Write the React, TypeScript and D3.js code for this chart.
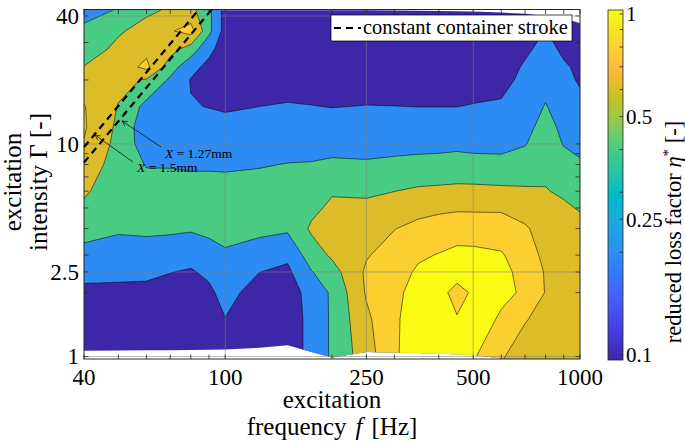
import React from "react";
import * as d3 from "d3";

// ---------------- data ----------------
const freqs = [40, 50, 60, 70, 80, 90, 100, 125, 150, 175, 200, 250, 300, 350, 400, 450, 500, 600, 700, 800, 900, 1000];
// interior intensity rows (bottom and top rows are measured per frequency)
const gammaRows = [1.5, 2, 2.5, 3, 4, 5, 6, 8, 10, 12, 15, 20, 23, 28, 34];
const gammaBottom = [1.065, 1.068, 1.07, 1.072, 1.074, 1.077, 1.08, 1.1, 1.13, 1.05, 0.99, 1.05, 1.045, 1.04, 1.03, 1.025, 1.02, 0.98, 0.975, 0.975, 0.975, 0.975];
const gammaTop = [42.5, 42.5, 42.5, 42.5, 42.5, 42.5, 42.5, 42.5, 42.5, 42.5, 42.5, 42.5, 42.4, 42.3, 42.2, 42.1, 42, 41.5, 41, 40, 39, 37];

// reduced loss factor, one array per frequency, rows bottom -> top
const eta40 = [0.10, 0.11, 0.16, 0.25, 0.34, 0.47, 0.56, 0.63, 0.72, 0.79, 0.82, 0.81, 0.68, 0.605, 0.51, 0.43, 0.35];
const eta50 = [0.10, 0.11, 0.16, 0.24, 0.33, 0.42, 0.45, 0.47, 0.51, 0.54, 0.56, 0.59, 0.66, 0.69, 0.64, 0.58, 0.41];
const eta60 = [0.10, 0.11, 0.15, 0.24, 0.33, 0.43, 0.49, 0.47, 0.39, 0.30, 0.27, 0.34, 0.58, 0.85, 0.745, 0.66, 0.57];
const eta70 = [0.10, 0.11, 0.13, 0.205, 0.30, 0.43, 0.49, 0.46, 0.39, 0.35, 0.31, 0.33, 0.37, 0.49, 0.68, 0.78, 0.62];
const eta80 = [0.10, 0.11, 0.11, 0.18, 0.27, 0.42, 0.48, 0.46, 0.38, 0.32, 0.27, 0.21, 0.19, 0.26, 0.51, 0.88, 0.66];
const eta90 = [0.11, 0.11, 0.16, 0.24, 0.33, 0.44, 0.49, 0.46, 0.38, 0.32, 0.26, 0.195, 0.13, 0.15, 0.25, 0.45, 0.45];
const eta100 = [0.12, 0.195, 0.27, 0.33, 0.38, 0.45, 0.50, 0.45, 0.38, 0.31, 0.25, 0.18, 0.12, 0.11, 0.11, 0.12, 0.12];
const eta125 = [0.10, 0.10, 0.11, 0.202, 0.32, 0.44, 0.49, 0.46, 0.39, 0.33, 0.27, 0.20, 0.12, 0.11, 0.11, 0.11, 0.12];
const eta150 = [0.11, 0.11, 0.11, 0.16, 0.24, 0.43, 0.48, 0.47, 0.405, 0.34, 0.28, 0.215, 0.12, 0.11, 0.11, 0.11, 0.12];
const eta175 = [0.25, 0.25, 0.27, 0.39, 0.50, 0.63, 0.55, 0.49, 0.41, 0.34, 0.28, 0.205, 0.12, 0.11, 0.11, 0.11, 0.12];
const eta200 = [0.43, 0.43, 0.43, 0.52, 0.63, 0.69, 0.64, 0.58, 0.43, 0.34, 0.28, 0.195, 0.12, 0.11, 0.11, 0.11, 0.12];
const eta250 = [0.71, 0.76, 0.82, 0.83, 0.785, 0.70, 0.64, 0.57, 0.42, 0.34, 0.28, 0.205, 0.12, 0.11, 0.11, 0.11, 0.12];
const eta300 = [0.98, 0.97, 0.95, 0.91, 0.88, 0.795, 0.69, 0.598, 0.44, 0.34, 0.28, 0.202, 0.12, 0.11, 0.11, 0.11, 0.12];
const eta350 = [1.08, 1.10, 1.08, 1.03, 0.97, 0.85, 0.74, 0.63, 0.45, 0.35, 0.28, 0.198, 0.12, 0.11, 0.11, 0.11, 0.12];
const eta400 = [1.10, 1.12, 1.05, 1.07, 1.01, 0.88, 0.765, 0.64, 0.46, 0.35, 0.285, 0.198, 0.12, 0.11, 0.11, 0.11, 0.12];
const eta450 = [1.08, 1.01, 0.95, 1.06, 1.05, 0.91, 0.775, 0.65, 0.47, 0.36, 0.29, 0.198, 0.12, 0.11, 0.11, 0.11, 0.12];
const eta500 = [1.03, 1.12, 1.02, 1.07, 1.05, 0.90, 0.775, 0.65, 0.46, 0.35, 0.29, 0.21, 0.12, 0.11, 0.11, 0.11, 0.12];
const eta600 = [0.81, 0.97, 1.05, 1.06, 1.02, 0.89, 0.775, 0.64, 0.45, 0.35, 0.30, 0.225, 0.14, 0.12, 0.11, 0.11, 0.12];
const eta700 = [0.72, 0.81, 0.97, 0.93, 0.88, 0.82, 0.73, 0.625, 0.485, 0.39, 0.35, 0.31, 0.25, 0.22, 0.17, 0.13, 0.12];
const eta800 = [0.72, 0.75, 0.79, 0.785, 0.76, 0.73, 0.65, 0.61, 0.55, 0.50, 0.46, 0.41, 0.34, 0.30, 0.252, 0.205, 0.17];
const eta900 = [0.72, 0.72, 0.72, 0.71, 0.70, 0.68, 0.63, 0.57, 0.47, 0.39, 0.36, 0.31, 0.25, 0.22, 0.17, 0.13, 0.12];
const eta1000 = [0.72, 0.72, 0.71, 0.70, 0.69, 0.66, 0.585, 0.52, 0.42, 0.36, 0.31, 0.25, 0.18, 0.17, 0.14, 0.12, 0.12];
const etaColumns = [eta40, eta50, eta60, eta70, eta80, eta90, eta100, eta125, eta150, eta175, eta200, eta250, eta300, eta350, eta400, eta450, eta500, eta600, eta700, eta800, eta900, eta1000];

const levels = [0.2, 0.4, 0.6, 0.8, 1.0];
const xTicks = [40, 100, 250, 500, 1000];
const xMinor = [50, 60, 70, 80, 90, 200, 300, 400, 600, 700, 800, 900];
const yTicks = [1, 2.5, 10, 40];
const yTickLabels = ["1", "2.5", "10", "40"];
const yMinor = [2, 3, 4, 5, 6, 7, 8, 9, 20, 30];
const cbTicks = [0.1, 0.25, 0.5, 1];
const cbTickLabels = ["0.1", "0.25", "0.5", "1"];
const cbMinor = [0.2, 0.3, 0.4, 0.6, 0.7, 0.8, 0.9];

// constant container stroke lines (end points)
const strokeLine127 = { f: [40, 91.6], g: [8.18, 42.9] };
const strokeLine15 = { f: [40, 84.3], g: [9.66, 42.9] };

// MATLAB parula colormap
const parula = [
  [0.2422,0.1504,0.6603],[0.2504,0.1650,0.7076],[0.2578,0.1818,0.7511],[0.2647,0.1978,0.7952],
  [0.2706,0.2147,0.8364],[0.2751,0.2342,0.8710],[0.2783,0.2559,0.8991],[0.2803,0.2782,0.9221],
  [0.2813,0.3006,0.9414],[0.2810,0.3228,0.9579],[0.2795,0.3447,0.9717],[0.2760,0.3667,0.9829],
  [0.2699,0.3892,0.9906],[0.2602,0.4123,0.9952],[0.2440,0.4358,0.9988],[0.2206,0.4603,0.9973],
  [0.1963,0.4847,0.9892],[0.1834,0.5074,0.9798],[0.1786,0.5289,0.9682],[0.1764,0.5499,0.9520],
  [0.1687,0.5703,0.9359],[0.1540,0.5902,0.9218],[0.1460,0.6091,0.9079],[0.1380,0.6276,0.8973],
  [0.1248,0.6459,0.8883],[0.1113,0.6635,0.8763],[0.0952,0.6798,0.8598],[0.0689,0.6948,0.8394],
  [0.0297,0.7082,0.8163],[0.0036,0.7203,0.7917],[0.0067,0.7312,0.7660],[0.0433,0.7411,0.7394],
  [0.0964,0.7500,0.7120],[0.1408,0.7584,0.6842],[0.1717,0.7670,0.6554],[0.1938,0.7758,0.6251],
  [0.2161,0.7843,0.5923],[0.2470,0.7918,0.5567],[0.2906,0.7973,0.5188],[0.3406,0.8008,0.4789],
  [0.3909,0.8029,0.4354],[0.4456,0.8024,0.3909],[0.5044,0.7993,0.3480],[0.5616,0.7942,0.3045],
  [0.6174,0.7876,0.2612],[0.6720,0.7793,0.2227],[0.7242,0.7698,0.1910],[0.7738,0.7598,0.1646],
  [0.8203,0.7498,0.1535],[0.8634,0.7406,0.1596],[0.9035,0.7330,0.1774],[0.9393,0.7288,0.2100],
  [0.9728,0.7298,0.2394],[0.9956,0.7434,0.2371],[0.9970,0.7659,0.2199],[0.9952,0.7893,0.2028],
  [0.9892,0.8136,0.1885],[0.9786,0.8386,0.1766],[0.9676,0.8639,0.1643],[0.9610,0.8890,0.1537],
  [0.9597,0.9135,0.1423],[0.9628,0.9373,0.1265],[0.9691,0.9606,0.1064],[0.9769,0.9839,0.0805]
];
const rgbOf = (c: number[]) => `rgb(${Math.round(c[0] * 255)},${Math.round(c[1] * 255)},${Math.round(c[2] * 255)})`;
function parulaAt(t: number) {
  const p = Math.max(0, Math.min(1, t)) * 63;
  const i = Math.min(62, Math.floor(p));
  const f = p - i;
  const a = parula[i], b = parula[i + 1];
  return rgbOf([a[0] + (b[0] - a[0]) * f, a[1] + (b[1] - a[1]) * f, a[2] + (b[2] - a[2]) * f]);
}
const bandColors = [1, 20, 39, 50, 57, 64].map((i) => rgbOf(parula[i - 1]));

const FONT = "'Liberation Serif', 'Times New Roman', serif";

export default function App() {
  const X0 = 84, X1 = 580, Y0 = 9.5, Y1 = 359;
  const x = d3.scaleLog().domain([40, 1000]).range([X0, X1]);
  const y = d3.scaleLog().domain([0.974, 42.9]).range([Y1, Y0]);

  const nx = freqs.length;
  const ny = gammaRows.length + 2;
  const values: number[] = new Array(nx * ny);
  for (let j = 0; j < ny; j++) for (let i = 0; i < nx; i++) values[j * nx + i] = etaColumns[i][j];

  const logF = freqs.map((f) => Math.log10(f));
  const logB = gammaBottom.map((g) => Math.log10(g));
  const logT = gammaTop.map((g) => Math.log10(g));
  const lerpArr = (arr: number[], u: number) => {
    const i = Math.min(arr.length - 2, Math.floor(u));
    const f = u - i;
    return arr[i] * (1 - f) + arr[i + 1] * f;
  };
  const rowLog = (j: number, u: number) => {
    if (j === 0) return lerpArr(logB, u);
    if (j === ny - 1) return lerpArr(logT, u);
    return Math.log10(gammaRows[j - 1]);
  };
  const toUV = (p: number[]) => [
    Math.max(0, Math.min(nx - 1, p[0] - 0.5)),
    Math.max(0, Math.min(ny - 1, p[1] - 0.5)),
  ];
  const toXY = (uv: number[]) => {
    const [u, v] = uv;
    const lf = lerpArr(logF, u);
    const j0 = Math.min(ny - 2, Math.floor(v));
    const fv = v - j0;
    const lg = rowLog(j0, u) * (1 - fv) + rowLog(j0 + 1, u) * fv;
    return [x(Math.pow(10, lf)), y(Math.pow(10, lg))];
  };

  const gen = d3.contours().size([nx, ny]).thresholds([0, ...levels]);
  const cs = gen(values);

  const fills: string[] = [];
  const lines: string[] = [];
  cs.forEach((c, k) => {
    let fp = "";
    let lp = "";
    c.coordinates.forEach((poly) => {
      poly.forEach((ring) => {
        const uvs = ring.map((p) => toUV(p));
        const pts = uvs.map(toXY);
        pts.forEach((pt, idx) => {
          fp += (idx === 0 ? "M" : "L") + pt[0].toFixed(2) + "," + pt[1].toFixed(2);
        });
        fp += "Z";
        if (k > 0) {
          let pen = false;
          for (let idx = 1; idx < uvs.length; idx++) {
            const a = uvs[idx - 1], b = uvs[idx];
            const onEdge =
              (a[0] <= 1e-9 && b[0] <= 1e-9) ||
              (a[0] >= nx - 1 - 1e-9 && b[0] >= nx - 1 - 1e-9) ||
              (a[1] <= 1e-9 && b[1] <= 1e-9) ||
              (a[1] >= ny - 1 - 1e-9 && b[1] >= ny - 1 - 1e-9);
            if (onEdge) { pen = false; continue; }
            if (!pen) { lp += "M" + pts[idx - 1][0].toFixed(2) + "," + pts[idx - 1][1].toFixed(2); pen = true; }
            lp += "L" + pts[idx][0].toFixed(2) + "," + pts[idx][1].toFixed(2);
          }
        }
      });
    });
    fills.push(fp);
    lines.push(lp);
  });

  const lineGen = d3.line<[number, number]>().x((d) => x(d[0])).y((d) => y(d[1]));
  const sl = (s: { f: number[]; g: number[] }) => lineGen(s.f.map((f, i) => [f, s.g[i]] as [number, number])) || "";

  // colorbar
  const CB_X = 608, CB_W = 15, CB_T = 10, CB_B = 360;
  const cb = d3.scaleLog().domain([0.0966, 1.027]).range([CB_B, CB_T]);
  const cbRects: JSX.Element[] = [];
  for (let yy = CB_T; yy < CB_B; yy += 1) {
    const t = (CB_B - (yy + 0.5)) / (CB_B - CB_T);
    cbRects.push(<rect key={yy} x={CB_X} y={yy} width={CB_W} height={1.05} fill={parulaAt(t)} />);
  }

  const TL = 4.5;
  const axisColor = "#262626";

  const arrow = (x1: number, y1: number, x2: number, y2: number) => {
    const ang = Math.atan2(y2 - y1, x2 - x1);
    const L = 6, A = 0.45;
    const p1 = [x2 - L * Math.cos(ang - A), y2 - L * Math.sin(ang - A)];
    const p2 = [x2 - L * Math.cos(ang + A), y2 - L * Math.sin(ang + A)];
    return `M${x1},${y1}L${x2},${y2}M${p1[0]},${p1[1]}L${x2},${y2}L${p2[0]},${p2[1]}`;
  };

  return (
    <svg width={685} height={441} viewBox="0 0 685 441" style={{ position: "absolute", left: 0, top: 0, background: "#fff" }} fontFamily={FONT}>
      <rect x={0} y={0} width={685} height={441} fill="#fff" />
      {fills.map((d, k) => (
        <path key={"f" + k} d={d} fill={bandColors[k]} fillRule="evenodd" stroke="none" />
      ))}
      {lines.map((d, k) => (
        <path key={"l" + k} d={d} fill="none" stroke="#000" strokeWidth={0.6} strokeOpacity={0.9} />
      ))}
      {/* grid */}
      <g stroke="#808080" strokeOpacity={0.55} strokeWidth={1}>
        {xTicks.slice(1, -1).map((t) => (
          <line key={"gx" + t} x1={x(t)} x2={x(t)} y1={Y0} y2={Y1} />
        ))}
        {yTicks.map((t) => (
          <line key={"gy" + t} x1={X0} x2={X1} y1={y(t)} y2={y(t)} />
        ))}
      </g>
      {/* constant container stroke */}
      <g fill="none" stroke="#000" strokeWidth={2.2} strokeDasharray="7,5">
        <path d={sl(strokeLine127)} />
        <path d={sl(strokeLine15)} />
      </g>
      {/* annotations */}
      <path d={arrow(161, 147, 122, 121)} fill="none" stroke="#000" strokeWidth={0.7} />
      <path d={arrow(133, 162, 95, 135)} fill="none" stroke="#000" strokeWidth={0.7} />
      <text x={165} y={158} fontSize={13.5} fill="#000">
        <tspan fontStyle="italic">X</tspan> = 1.27mm
      </text>
      <text x={137} y={172} fontSize={13.5} fill="#000">
        <tspan fontStyle="italic">X</tspan> = 1.5mm
      </text>
      {/* axes box */}
      <rect x={X0} y={Y0} width={X1 - X0} height={Y1 - Y0} fill="none" stroke={axisColor} strokeWidth={1} />
      <g stroke={axisColor} strokeWidth={0.8}>
        {[...xTicks, ...xMinor].map((t) => (
          <g key={"tx" + t}>
            <line x1={x(t)} x2={x(t)} y1={Y1} y2={Y1 - TL} />
            <line x1={x(t)} x2={x(t)} y1={Y0} y2={Y0 + TL} />
          </g>
        ))}
        {[...yTicks, ...yMinor].map((t) => (
          <g key={"ty" + t}>
            <line x1={X0} x2={X0 + TL} y1={y(t)} y2={y(t)} />
            <line x1={X1} x2={X1 - TL} y1={y(t)} y2={y(t)} />
          </g>
        ))}
      </g>
      {/* legend */}
      <rect x={331} y={15} width={241} height={26} fill="#fff" stroke="#000" strokeWidth={0.7} />
      <line x1={334} x2={361} y1={28} y2={28} stroke="#000" strokeWidth={2.2} strokeDasharray="7,5" />
      <text x={363} y={33.5} fontSize={20.5} fill="#000">constant container stroke</text>
      {/* tick labels */}
      <g fontSize={23} fill="#000">
        {xTicks.map((t) => (
          <text key={"lx" + t} x={x(t)} y={385} textAnchor="middle">{t}</text>
        ))}
        {yTicks.map((t, i) => (
          <text key={"ly" + t} x={79} y={y(t)} dy="0.33em" textAnchor="end">{yTickLabels[i]}</text>
        ))}
      </g>
      {/* axis labels */}
      <g fontSize={25} fill="#000" textAnchor="middle">
        <text x={332} y={408}>excitation</text>
        <text x={332} y={435}>frequency<tspan dx={9} fontStyle="italic">f</tspan><tspan dx={9}>[Hz]</tspan></text>
        <text transform="translate(21,182) rotate(-90)">excitation</text>
        <text transform="translate(47,182) rotate(-90)">intensity Γ [-]</text>
      </g>
      {/* colorbar */}
      {cbRects}
      <rect x={CB_X} y={CB_T} width={CB_W} height={CB_B - CB_T} fill="none" stroke={axisColor} strokeWidth={0.8} />
      <g stroke={axisColor} strokeWidth={0.8}>
        {[...cbTicks, ...cbMinor].map((t) => (
          <line key={"cbt" + t} x1={CB_X + CB_W} x2={CB_X + CB_W - 3.5} y1={cb(t)} y2={cb(t)} />
        ))}
      </g>
      <g fontSize={21} fill="#000">
        {cbTicks.map((t, i) => (
          <text key={"cbl" + t} x={626} y={cb(t)} dy="0.35em">{cbTickLabels[i]}</text>
        ))}
      </g>
      <text transform="translate(681,232) rotate(-90)" fontSize={22.5} textAnchor="middle" fill="#000">
        reduced loss factor <tspan fontStyle="italic">η</tspan><tspan dy="-8" fontSize={15}>*</tspan><tspan dy="8"> [-]</tspan>
      </text>
    </svg>
  );
}
